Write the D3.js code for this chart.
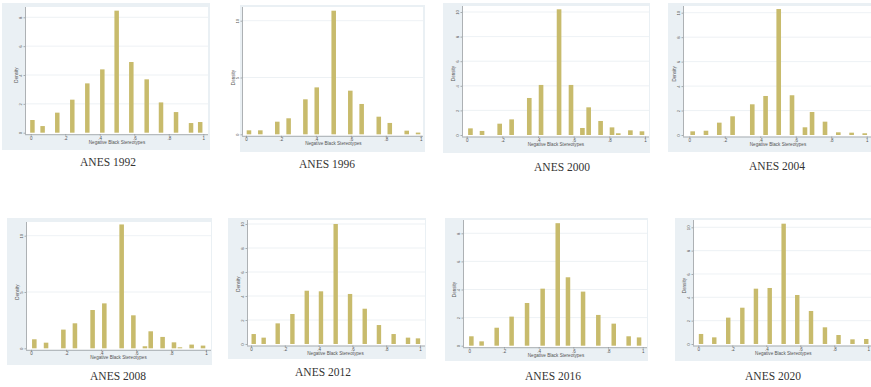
<!DOCTYPE html>
<html>
<head>
<meta charset="utf-8">
<script src="https://cdn.jsdelivr.net/npm/d3@7"></script>
<style>
  body { margin: 0; background: #fff; }
  svg { display: block; }
</style>
</head>
<body>
<svg id="chart" width="871" height="387"></svg>
<script>
// bin centres (x) and density heights
const x1992 = [0.010, 0.069, 0.154, 0.241, 0.328, 0.415, 0.498, 0.583, 0.672, 0.755, 0.842, 0.929, 0.982];
const d1992 = [0.88, 0.46, 1.39, 2.29, 3.42, 4.39, 8.46, 4.90, 3.70, 2.10, 1.43, 0.67, 0.74];

const x1996 = [0.017, 0.082, 0.179, 0.244, 0.340, 0.405, 0.502, 0.597, 0.662, 0.760, 0.823, 0.920, 0.985];
const d1996 = [0.35, 0.35, 1.11, 1.41, 3.08, 4.13, 10.88, 3.84, 2.67, 1.55, 1.00, 0.32, 0.15];

const x2000 = [0.021, 0.086, 0.185, 0.252, 0.351, 0.417, 0.518, 0.585, 0.649, 0.684, 0.751, 0.815, 0.850, 0.918, 0.983];
const d2000 = [0.54, 0.33, 0.92, 1.27, 3.01, 4.07, 10.22, 4.07, 0.57, 2.25, 1.14, 0.62, 0.14, 0.38, 0.30];

const x2004 = [0.019, 0.094, 0.169, 0.244, 0.355, 0.430, 0.504, 0.579, 0.652, 0.692, 0.765, 0.840, 0.915, 0.989];
const d2004 = [0.30, 0.35, 1.01, 1.53, 2.51, 3.19, 10.30, 3.25, 0.63, 1.88, 1.09, 0.22, 0.19, 0.14];

const x2008 = [0.019, 0.086, 0.185, 0.251, 0.352, 0.419, 0.518, 0.585, 0.651, 0.684, 0.752, 0.817, 0.851, 0.918, 0.983];
const d2008 = [0.80, 0.50, 1.66, 2.22, 3.40, 3.99, 11.00, 2.93, 0.18, 1.51, 1.01, 0.53, 0.09, 0.33, 0.24];

const x2012 = [0.016, 0.075, 0.158, 0.245, 0.330, 0.414, 0.501, 0.586, 0.673, 0.757, 0.844, 0.929, 0.988];
const d2012 = [0.83, 0.53, 1.72, 2.50, 4.44, 4.39, 10.00, 4.17, 2.94, 1.58, 0.83, 0.53, 0.47];

const x2016 = [0.012, 0.071, 0.158, 0.244, 0.333, 0.423, 0.510, 0.569, 0.656, 0.744, 0.833, 0.919, 0.979];
const d2016 = [0.67, 0.31, 1.28, 2.07, 3.04, 4.06, 8.72, 4.87, 3.85, 2.19, 1.57, 0.67, 0.59];

const x2020 = [0.016, 0.094, 0.176, 0.259, 0.339, 0.420, 0.502, 0.582, 0.663, 0.745, 0.825, 0.907, 0.988];
const d2020 = [0.86, 0.57, 2.26, 3.11, 4.74, 4.80, 10.31, 4.20, 2.83, 1.43, 0.77, 0.40, 0.43];

const yTicks1992 = [0, 2, 4, 6, 8];
const yTicks1996 = [0, 5, 10];
const yTicks2000 = [0, 2, 4, 6, 8, 10];
const yTicks2004 = [0, 2, 4, 6, 8, 10];
const yTicks2008 = [0, 5, 10];
const yTicks2012 = [0, 2, 4, 6, 8, 10];
const yTicks2016 = [0, 2, 4, 6, 8];
const yTicks2020 = [0, 2, 4, 6, 8, 10];

const xTicks = [0, 0.2, 0.4, 0.6, 0.8, 1];
const xTickLabels = ["0", ".2", ".4", ".6", ".8", "1"];
const xTitle = "Negative Black Stereotypes";
const yTitle = "Density";

const panels = [
  {year: 1992, xs: x1992, ds: d1992, yt: yTicks1992},
  {year: 1996, xs: x1996, ds: d1996, yt: yTicks1996},
  {year: 2000, xs: x2000, ds: d2000, yt: yTicks2000},
  {year: 2004, xs: x2004, ds: d2004, yt: yTicks2004},
  {year: 2008, xs: x2008, ds: d2008, yt: yTicks2008},
  {year: 2012, xs: x2012, ds: d2012, yt: yTicks2012},
  {year: 2016, xs: x2016, ds: d2016, yt: yTicks2016},
  {year: 2020, xs: x2020, ds: d2020, yt: yTicks2020}
];

// where each pasted-in graph sits on the page (they are not on a clean grid)
// box = grey graph region, plot = white plot region, x0/x1 = pixels of 0 and 1,
// base = pixel of density 0, top = pixel of highest y tick, title = centre of caption
const layout = [
  {box: [2, 3, 210, 150],   plot: [25, 7, 208],    x0: 30.7,  x1: 203.3, base: 132.7, top: 17.3,  title: [108, 166]},
  {box: [240, 5, 425, 152], plot: [242, 7, 423],   x0: 246,   x1: 420.7, base: 134.3, top: 20.7,  title: [327, 168]},
  {box: [443, 3, 650, 153], plot: [462, 6, 649],   x0: 466.7, x1: 645,   base: 135,   top: 12,    title: [562, 171]},
  {box: [668, 3, 871, 152], plot: [683, 6, 871],   x0: 689.3, x1: 866.7, base: 135,   top: 12.7,  title: [777, 170]},
  {box: [7, 218, 212, 365], plot: [26, 222, 211],  x0: 31,    x1: 206,   base: 348.3, top: 235.7, title: [118, 380]},
  {box: [228, 218, 426, 359], plot: [247, 220, 425], x0: 251, x1: 420,   base: 344,   top: 224,   title: [323, 376]},
  {box: [445, 218, 648, 361], plot: [463, 220, 647], x0: 469.3, x1: 642.7, base: 345.7, top: 233.3, title: [553, 380]},
  {box: [675, 218, 871, 361], plot: [693, 220, 871], x0: 698.3, x1: 868.3, base: 344,   top: 227.3, title: [773, 380]}
];

const barColor = "#c8bb6c";
const boxColor = "#eaf0f4";
const gridColor = "#e9eef1";
const axisColor = "#8a8f93";
const textColor = "#555";
const barWidth = 0.026;

const svg = d3.select("#chart");

panels.forEach((p, i) => {
  const L = layout[i];
  const g = svg.append("g");

  const xScale = d3.scaleLinear().domain([0, 1]).range([L.x0, L.x1]);
  const yMax = d3.max(p.yt);
  const yScale = d3.scaleLinear().domain([0, yMax]).range([L.base, L.top]);

  g.append("rect")
    .attr("x", L.box[0]).attr("y", L.box[1])
    .attr("width", L.box[2] - L.box[0]).attr("height", L.box[3] - L.box[1])
    .attr("fill", boxColor);

  g.append("rect")
    .attr("x", L.plot[0]).attr("y", L.plot[1])
    .attr("width", L.plot[2] - L.plot[0]).attr("height", L.base + 1.5 - L.plot[1])
    .attr("fill", "#fff");

  // gridlines
  g.selectAll(".grid")
    .data(p.yt.filter(v => v > 0))
    .enter()
    .append("line")
    .attr("x1", L.plot[0]).attr("x2", L.plot[2])
    .attr("y1", d => yScale(d)).attr("y2", d => yScale(d))
    .attr("stroke", gridColor).attr("stroke-width", 0.8);

  // bars
  g.selectAll(".bar")
    .data(p.xs.map((x, j) => ({x: x, d: p.ds[j]})))
    .enter()
    .append("rect")
    .attr("x", d => xScale(d.x - barWidth / 2))
    .attr("y", d => yScale(d.d))
    .attr("width", xScale(barWidth) - xScale(0))
    .attr("height", d => yScale(0) - yScale(d.d))
    .attr("fill", barColor);

  // x axis
  const xAxis = d3.axisBottom(xScale)
    .tickValues(xTicks)
    .tickFormat((d, j) => xTickLabels[j])
    .tickSize(1.5).tickPadding(1);
  const gx = g.append("g")
    .attr("transform", `translate(0, ${L.base + 1.5})`)
    .call(xAxis);
  gx.select(".domain").attr("d", `M${L.plot[0]},0.5H${L.plot[2]}`);
  gx.selectAll("path, line").attr("stroke", axisColor).attr("stroke-width", 0.7);
  gx.selectAll("text")
    .attr("fill", textColor)
    .style("font-family", "Liberation Sans, Arial, sans-serif")
    .style("font-size", "4.5px");

  g.append("text")
    .attr("x", (L.x0 + L.x1) / 2)
    .attr("y", L.base + 11)
    .attr("text-anchor", "middle")
    .attr("fill", textColor)
    .style("font-family", "Liberation Sans, Arial, sans-serif")
    .style("font-size", "4.6px")
    .text(xTitle);

  // y axis, labels turned on their side as Stata does
  const yAxis = d3.axisLeft(yScale)
    .tickValues(p.yt)
    .tickSize(1.5).tickPadding(1.2);
  const gy = g.append("g")
    .attr("transform", `translate(${L.plot[0]}, 0)`)
    .call(yAxis);
  gy.select(".domain").attr("d", `M0.5,${L.plot[1]}V${L.base + 1.5}`);
  gy.selectAll("path, line").attr("stroke", axisColor).attr("stroke-width", 0.7);
  gy.selectAll("text")
    .attr("fill", textColor)
    .attr("text-anchor", "middle")
    .attr("x", 0)
    .attr("y", 0)
    .attr("dy", 0)
    .attr("transform", "translate(-3, 0) rotate(-90)")
    .style("font-family", "Liberation Sans, Arial, sans-serif")
    .style("font-size", "4.2px");

  g.append("text")
    .attr("transform", `translate(${L.plot[0] - 7.5}, ${(L.base + L.top) / 2}) rotate(-90)`)
    .attr("text-anchor", "middle")
    .attr("fill", textColor)
    .style("font-family", "Liberation Sans, Arial, sans-serif")
    .style("font-size", "4.6px")
    .text(yTitle);

  // caption under each graph
  svg.append("text")
    .attr("x", L.title[0]).attr("y", L.title[1])
    .attr("text-anchor", "middle")
    .attr("fill", "#333")
    .style("font-family", "Liberation Serif, Times New Roman, serif")
    .style("font-size", "11.5px")
    .text(`ANES ${p.year}`);
});
</script>
</body>
</html>
